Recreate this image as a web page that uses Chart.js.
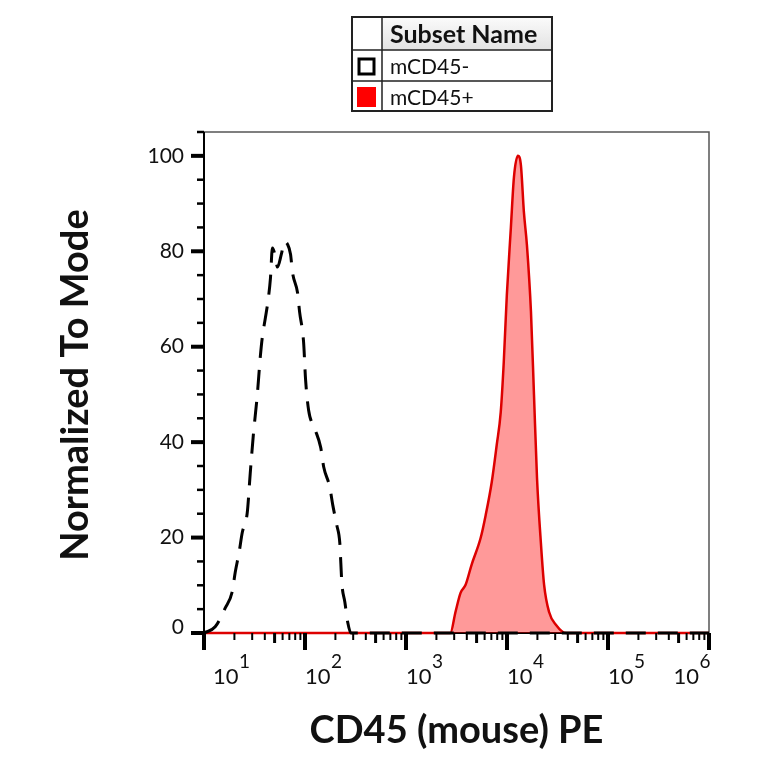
<!DOCTYPE html>
<html>
<head>
<meta charset="utf-8">
<script src="https://cdn.jsdelivr.net/npm/chart.js@4.4.1/dist/chart.umd.min.js"></script>
<style>
  html, body { margin: 0; padding: 0; background: #fff; }
  #wrap { width: 764px; height: 764px; }
</style>
</head>
<body>
<div id="wrap"><canvas id="chart" width="764" height="764"></canvas></div>
<script>
/* ---------------- DATA ---------------- */

const SERIES_NAMES = ["mCD45-", "mCD45+"];
const LEGEND_TITLE = "Subset Name";
const X_TITLE = "CD45 (mouse) PE";
const Y_TITLE = "Normalized To Mode";

// mCD45- (black dashed)
const negX = [10, 12.9, 16.2, 19.0, 20.4, 22.3, 23.9, 26.8, 28.7, 30.8, 33.7, 36.1, 37.8, 40.5, 43.4, 45.5,
  47.6, 50.5, 53.4, 58.5, 62.6, 67, 71.9, 75.3, 84.4, 88.4, 96.8, 101.4, 108.6, 124.6, 143, 153.2, 175.8,
  188.4, 206.4, 221.1, 226.3, 231.5, 248, 265.7, 284.7, 1000000];
const negY = [0, 1.3, 5.2, 8.6, 12.8, 17.0, 21.0, 25.2, 33.5, 41.5, 49.9, 57.9, 62.0, 66.0, 70.2, 74.4,
  80.7, 79.2, 76.7, 79.5, 82.0, 81.5, 79.4, 75.5, 71.3, 67.3, 61.0, 53.0, 46.7, 42.9, 38.9, 34.8, 30.6,
  26.8, 22.6, 18.9, 14.7, 10.5, 6.5, 2.1, 0, 0];

// mCD45+ (red filled)
const posX = [10, 2750, 3090, 3470, 3890, 4460, 5480, 6150, 7060, 7910, 8670, 9290, 9960, 10920, 11700,
  12820, 13720, 14700, 15750, 17270, 18500, 19820, 21730, 23300, 26100, 30600, 38500, 1000000];
const posY = [0, 0, 4.4, 8.4, 10.1, 14.3, 19.9, 24.7, 31.6, 39.4, 46.3, 56.8, 70.8, 84.9, 95.4,
  100, 98.1, 88.2, 81.3, 67.3, 49.9, 32.5, 18.4, 10.1, 4.4, 1.7, 0, 0];

// axes
const xDecades = [10, 100, 1000, 10000, 100000, 1000000];
const xExponents = ["1", "2", "3", "4", "5", "6"];
const yLabels = [0, 20, 40, 60, 80, 100];
const Y_MAX = 105;

/* ---------------- HELPERS ---------------- */

function toPoints(xs, ys) {
  return xs.map((x, i) => ({ x: x, y: ys[i] }));
}

/* ---------------- AXES + LEGEND ---------------- */

const flowAxes = {
  id: "flowAxes",

  beforeDatasetsDraw(chart) {
    const { ctx, chartArea: a } = chart;
    ctx.save();
    ctx.strokeStyle = "#555";
    ctx.lineWidth = 1.5;
    ctx.beginPath();
    ctx.moveTo(a.left, a.top);
    ctx.lineTo(a.right, a.top);
    ctx.lineTo(a.right, a.bottom);
    ctx.stroke();

    ctx.strokeStyle = "#000";
    ctx.lineWidth = 2;
    ctx.beginPath();
    ctx.moveTo(a.left, a.top);
    ctx.lineTo(a.left, a.bottom);
    ctx.lineTo(a.right, a.bottom);
    ctx.stroke();
    ctx.restore();
  },

  afterDraw(chart) {
    const { ctx, chartArea: a, scales } = chart;
    const x = scales.x;
    const y = scales.y;
    ctx.save();
    ctx.strokeStyle = "#000";
    ctx.fillStyle = "#111";

    // y ticks every 5, major every 20
    for (let v = 0; v <= Y_MAX; v += 5) {
      const py = y.getPixelForValue(v);
      const major = v % 20 === 0;
      ctx.lineWidth = major ? 4 : 2.5;
      ctx.beginPath();
      ctx.moveTo(a.left - (major ? 13 : 7), py);
      ctx.lineTo(a.left, py);
      ctx.stroke();
    }

    ctx.font = "21px Lato";
    ctx.textAlign = "right";
    ctx.textBaseline = "middle";
    yLabels.forEach((v) => {
      const py = y.getPixelForValue(v) - (v === 0 ? 6 : 0);
      ctx.fillText(String(v), a.left - 20, py);
    });

    // x ticks: decades + 2..9 minors
    xDecades.forEach((d, i) => {
      const px = x.getPixelForValue(d);
      ctx.lineWidth = 4;
      ctx.beginPath();
      ctx.moveTo(px, a.bottom);
      ctx.lineTo(px, a.bottom + 17);
      ctx.stroke();
      if (i === xDecades.length - 1) return;
      for (let m = 2; m <= 9; m++) {
        const mx = x.getPixelForValue(d * m);
        ctx.lineWidth = m === 5 ? 3 : 2;
        ctx.beginPath();
        ctx.moveTo(mx, a.bottom);
        ctx.lineTo(mx, a.bottom + (m === 5 ? 10 : 7));
        ctx.stroke();
      }
    });

    // x labels 10^n
    ctx.textAlign = "left";
    ctx.textBaseline = "alphabetic";
    xDecades.forEach((d, i) => {
      const px = x.getPixelForValue(d);
      ctx.font = "22px Lato";
      const wBase = ctx.measureText("10").width;
      ctx.font = "19px Lato";
      const wExp = ctx.measureText(xExponents[i]).width;
      let left = px;
      if (i === 0) left = px + 9;
      if (i === xDecades.length - 1) left = px - wBase - wExp + 1;
      ctx.font = "22px Lato";
      ctx.fillText("10", left, a.bottom + 51);
      ctx.font = "19px Lato";
      ctx.fillText(xExponents[i], left + wBase + 0.5, a.bottom + 35);
    });

    // axis titles
    ctx.fillStyle = "#111";
    ctx.font = "bold 38px Lato";
    ctx.textAlign = "center";
    ctx.fillText(X_TITLE, (a.left + a.right) / 2, 743);

    ctx.save();
    ctx.translate(88, 385);
    ctx.rotate(-Math.PI / 2);
    ctx.fillText(Y_TITLE, 0, 0);
    ctx.restore();

    // legend table
    const L = { left: 352, top: 17, right: 552, head: 50, row: 81, bottom: 111, col: 382 };
    const grad = ctx.createLinearGradient(0, L.top, 0, L.head);
    grad.addColorStop(0, "#fbfbfb");
    grad.addColorStop(1, "#e2e2e2");
    ctx.fillStyle = grad;
    ctx.fillRect(L.col, L.top, L.right - L.col, L.head - L.top);

    ctx.strokeStyle = "#222";
    ctx.lineWidth = 2;
    ctx.strokeRect(L.left, L.top, L.right - L.left, L.bottom - L.top);
    ctx.lineWidth = 1.5;
    ctx.beginPath();
    ctx.moveTo(L.left, L.head); ctx.lineTo(L.right, L.head);
    ctx.moveTo(L.left, L.row); ctx.lineTo(L.right, L.row);
    ctx.moveTo(L.col, L.top); ctx.lineTo(L.col, L.bottom);
    ctx.stroke();

    // icons
    ctx.strokeStyle = "#000";
    ctx.lineWidth = 3;
    ctx.strokeRect(359, 59, 15, 15);
    ctx.fillStyle = "#f00";
    ctx.fillRect(357, 87, 19, 20);

    ctx.fillStyle = "#111";
    ctx.textAlign = "left";
    ctx.font = "bold 25px Lato";
    ctx.fillText(LEGEND_TITLE, 390, 43);
    ctx.font = "21px Lato";
    ctx.fillText(SERIES_NAMES[0], 390, 74);
    ctx.fillText(SERIES_NAMES[1], 390, 105);

    ctx.restore();
  },
};

/* ---------------- CHART ---------------- */

const chart = new Chart(document.getElementById("chart").getContext("2d"), {
  type: "line",
  data: {
    datasets: [
      {
        label: SERIES_NAMES[0],
        data: toPoints(negX, negY),
        borderColor: "#000",
        borderWidth: 3,
        borderDash: [20, 12],
        pointRadius: 0,
        fill: false,
        cubicInterpolationMode: "monotone",
        clip: false,
      },
      {
        label: SERIES_NAMES[1],
        data: toPoints(posX, posY),
        borderColor: "#dd0000",
        borderWidth: 2.5,
        backgroundColor: "rgba(255,0,0,0.4)",
        pointRadius: 0,
        fill: "origin",
        cubicInterpolationMode: "monotone",
        clip: false,
      },
    ],
  },
  options: {
    responsive: false,
    animation: false,
    devicePixelRatio: 1,
    layout: { padding: { left: 204, right: 55, top: 132, bottom: 131 } },
    plugins: { legend: { display: false }, tooltip: { enabled: false } },
    scales: {
      x: { type: "logarithmic", min: 10, max: 1000000, display: false },
      y: { type: "linear", min: 0, max: Y_MAX, display: false },
    },
  },
  plugins: [flowAxes],
});
</script>
</body>
</html>
